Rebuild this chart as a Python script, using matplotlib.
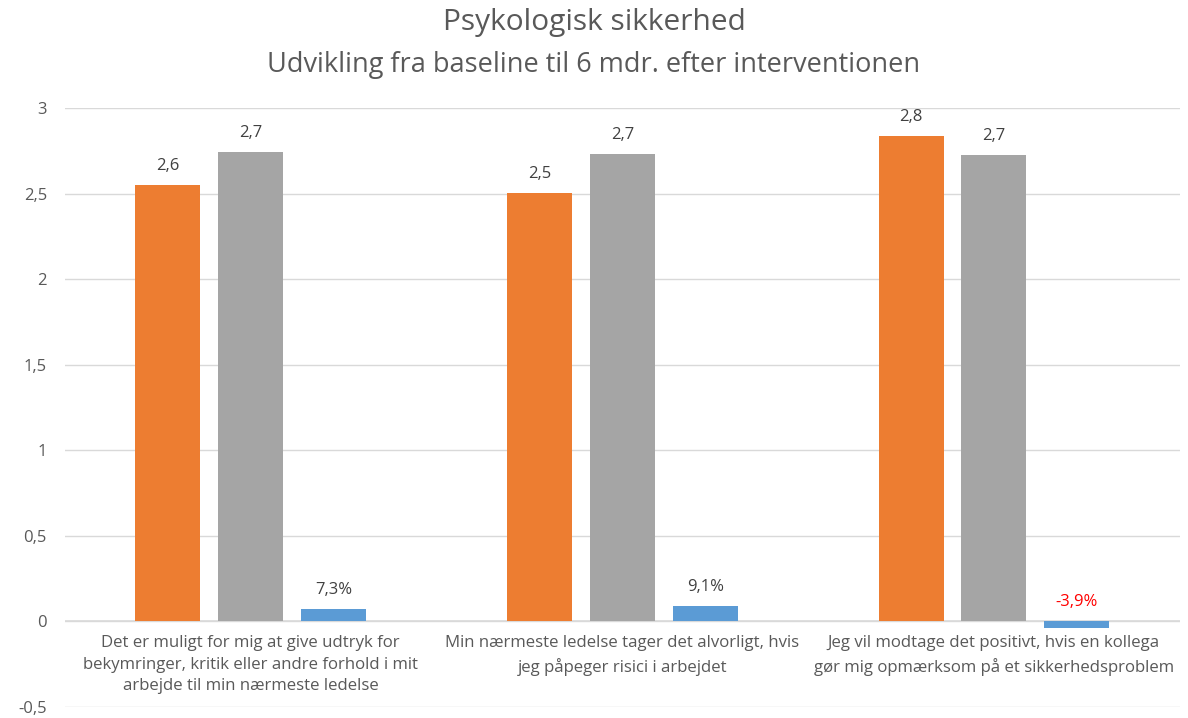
import numpy as np
import matplotlib.pyplot as plt

categories = [
    "Det er muligt for mig at give udtryk for\nbekymringer, kritik eller andre forhold i mit\narbejde til min nærmeste ledelse",
    "Min nærmeste ledelse tager det alvorligt, hvis\njeg påpeger risici i arbejdet",
    "Jeg vil modtage det positivt, hvis en kollega\ngør mig opmærksom på et sikkerhedsproblem",
]
baseline = [2.55, 2.505, 2.835]
followup = [2.74, 2.732, 2.726]
change = [0.073, 0.091, -0.039]

baseline_labels = ["2,6", "2,5", "2,8"]
followup_labels = ["2,7", "2,7", "2,7"]
change_labels = ["7,3%", "9,1%", "-3,9%"]

plt.rcParams['font.family'] = ['Open Sans', 'DejaVu Sans']

fig = plt.figure(figsize=(11.88, 7.18), dpi=100)
ax = fig.add_axes([0.0547, 0.0153, 0.9383, 0.8343])

x = np.arange(len(categories))
w = 0.175
pitch = 0.223
series = [
    (baseline, baseline_labels, '#ED7D31'),
    (followup, followup_labels, '#A5A5A5'),
    (change, change_labels, '#5B9BD5'),
]
for k, (vals, labs, col) in enumerate(series):
    pos = x + (k - 1) * pitch
    ax.bar(pos, vals, width=w, color=col, zorder=3)
    for p, v, lab in zip(pos, vals, labs):
        neg = v < 0
        ax.annotate(lab, (p, max(v, 0)), xytext=(0, 8), textcoords='offset points',
                    ha='center', va='bottom', fontsize=12,
                    color='#FF0000' if neg else '#404040')

ax.set_xlim(-0.5, 2.5)
ax.set_ylim(-0.5, 3)
ticks = np.arange(-0.5, 3.01, 0.5)
ax.set_yticks(ticks)
ax.set_yticklabels([f"{t:g}".replace('.', ',') for t in ticks])
ax.tick_params(axis='y', length=0, labelsize=12, labelcolor='#595959', pad=13)
ax.set_xticks([])
ax.grid(axis='y', color='#D9D9D9', linewidth=1, zorder=0)
ax.axhline(0, color='#D9D9D9', linewidth=1.2, zorder=2)
for s in ax.spines.values():
    s.set_visible(False)

for i, c in enumerate(categories):
    ax.annotate(c, (i, 0), xytext=(0, -10), textcoords='offset points',
                ha='center', va='top', fontsize=12.1, color='#595959',
                linespacing=1.45)

fig.text(0.5, 0.968, "Psykologisk sikkerhed", ha='center', va='center',
         fontsize=21.5, color='#595959')
fig.text(0.5, 0.91, "Udvikling fra baseline til 6 mdr. efter interventionen",
         ha='center', va='center', fontsize=19.5, color='#595959')

fig.savefig('out.png', dpi=100)
